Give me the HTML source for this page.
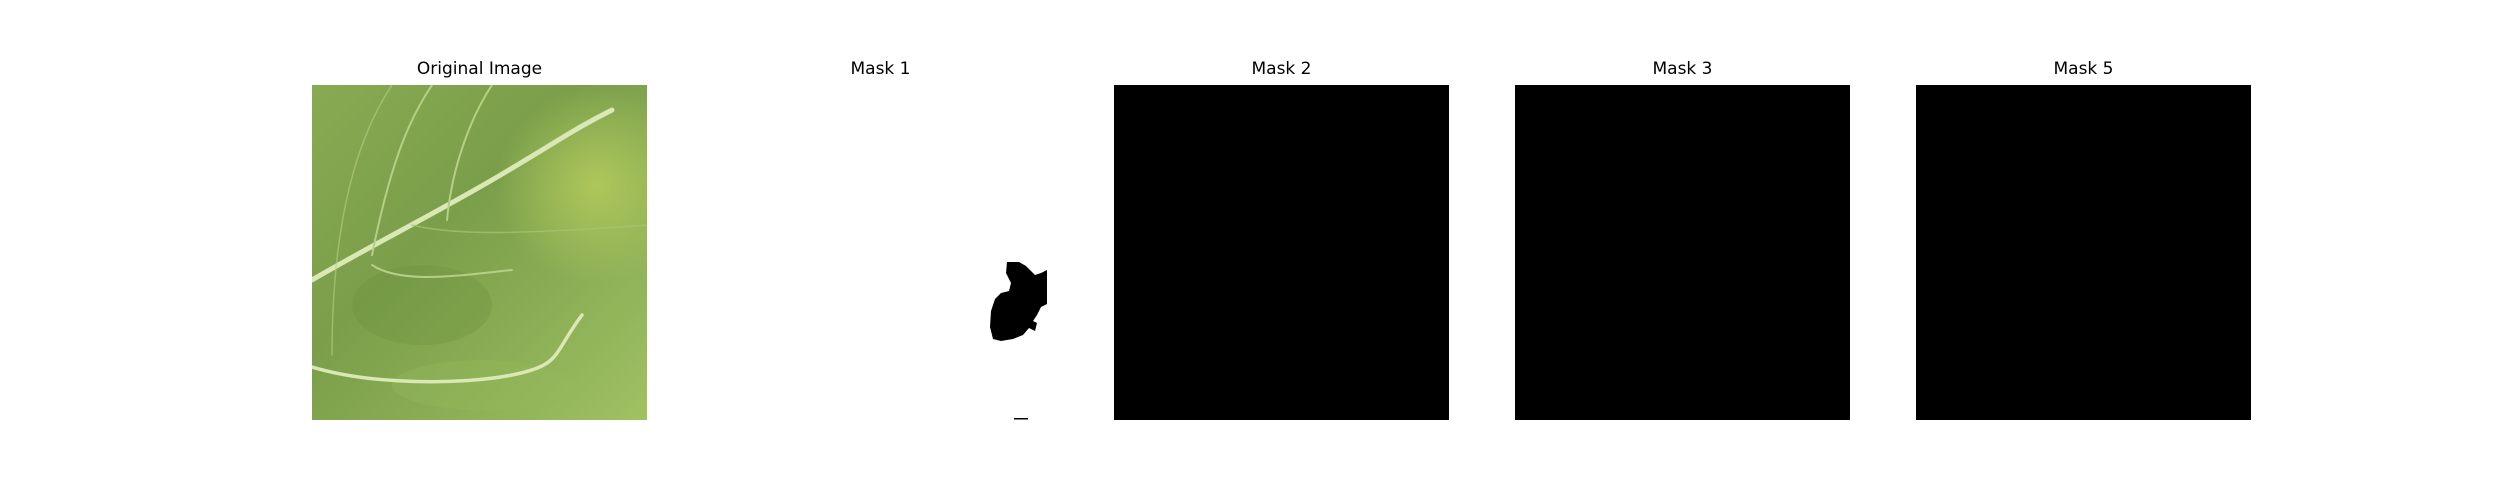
<!DOCTYPE html>
<html><head><meta charset="utf-8"><style>
html,body{margin:0;padding:0;background:#fff;width:2500px;height:500px;overflow:hidden}
.t{position:absolute;font-family:"DejaVu Sans","Liberation Sans",sans-serif;font-size:17px;color:#000;text-align:center;width:335px;top:59px}
.p{position:absolute;top:85px;width:335px;height:335px}
</style></head><body>
<div class="t" style="left:312px">Original Image</div>
<div class="t" style="left:713px">Mask 1</div>
<div class="t" style="left:1114px">Mask 2</div>
<div class="t" style="left:1515px">Mask 3</div>
<div class="t" style="left:1916px">Mask 5</div>

<svg class="p" style="left:312px" viewBox="0 0 335 335">
<defs>
<linearGradient id="g1" x1="0" y1="0" x2="1" y2="1">
<stop offset="0" stop-color="#88aa52"/><stop offset="0.4" stop-color="#7a9e4a"/><stop offset="0.7" stop-color="#8cae56"/><stop offset="1" stop-color="#a0c262"/></linearGradient>
<radialGradient id="g2" cx="0.85" cy="0.3" r="0.3"><stop offset="0" stop-color="#b8cf5e" stop-opacity="0.8"/><stop offset="1" stop-color="#b8cf5e" stop-opacity="0"/></radialGradient>
</defs>
<rect width="335" height="335" fill="url(#g1)"/>
<rect width="335" height="335" fill="url(#g2)"/>
<ellipse cx="110" cy="220" rx="70" ry="40" fill="#6e9240" opacity="0.35"/>
<ellipse cx="170" cy="300" rx="90" ry="25" fill="#94b85a" opacity="0.4"/>
<g fill="none" stroke="#d9e8b4" stroke-linecap="round">
<path d="M0 195 C60 160 120 130 180 95 S260 45 300 25" stroke-width="5"/>
<path d="M0 282 C60 300 150 300 200 290 S240 270 270 230" stroke-width="3.5"/>
<path d="M60 170 C80 70 100 30 120 0" stroke-width="2" stroke="#b6cf86"/>
<path d="M135 135 C140 80 160 30 180 0" stroke-width="2" stroke="#b6cf86"/>
<path d="M20 270 C20 150 40 60 80 0" stroke-width="1.5" stroke="#b6cf86" opacity="0.6"/>
<path d="M60 180 C90 200 150 190 200 185" stroke-width="2" stroke="#b6cf86"/>
<path d="M100 140 C140 150 200 150 335 140" stroke-width="1.5" stroke="#a8c478" opacity="0.7"/>
</g>
</svg>

<svg class="p" style="left:713px" viewBox="0 0 335 335">
<path d="M294 177 L306 177 L313 181 L318 186 L322 190 L328 188 L334 185 L334 219 L328 222 L324 230 L320 236 L324 238 L322 246 L316 243 L310 250 L300 254 L288 256 L280 254 L277 242 L278 226 L282 214 L288 208 L296 206 L298 198 L293 188 Z" fill="#000"/>
<rect x="301" y="333" width="14" height="1.5" fill="#000"/>
</svg>

<div class="p" style="left:1114px;background:#000"></div>
<div class="p" style="left:1515px;background:#000"></div>
<div class="p" style="left:1916px;background:#000"></div>
</body></html>
